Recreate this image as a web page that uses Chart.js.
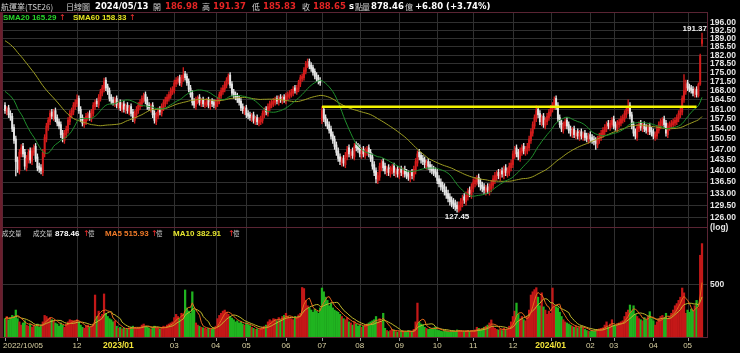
<!DOCTYPE html>
<html>
<head>
<meta charset="utf-8">
<script src="https://cdn.jsdelivr.net/npm/chart.js@4.4.1/dist/chart.umd.min.js"></script>
<style>
html, body { margin: 0; padding: 0; background: #000; overflow: hidden; }
canvas { display: block; }
</style>
</head>
<body>
<canvas id="c" width="740" height="353"></canvas>
<script>
// daily candles 2022/10/05 .. 2024/05/13
const openP = [
162.5,160,161.5,159.5,158.5,154.5,150.5,143.5,140,145.5,
148,146,141,143.5,146.5,143,146,148,144.5,141.5,
141,139.5,145.5,150.5,154.5,156.5,160,158,160.5,158,
156.5,155.5,152.5,150,152,153.5,156.5,159,160,162,
163,165,161,158,155.5,156.5,158,159.5,157.5,159.5,
162,164,162.5,165,167,168.5,172,169.5,168,165.5,
164.5,163,165,162,163.5,161,163,160.5,162.5,160,
162,160,157,159,160.5,162,163,164.5,166.5,164.5,
162.5,161,162.5,159.5,156.5,158.5,161,159.5,161.5,163,
164,165,166,167.5,168,170.5,171.5,173,170.5,172.5,
174.5,173.5,171.5,169,167,164,162,164,165.5,163,
164.5,162.5,163,164.5,162,164,163.5,162,163,164,
166,167.5,168.5,170,171.5,174,170.5,167.5,166.5,166,
165,164,162,160,161.5,159.5,159,157.5,159,156.5,
158,156,156.5,157,159,161,159.5,161.5,162.5,163,
163.5,165,163.5,165.5,164,165.5,164,165.5,166,166.5,
167,169,167.5,168.5,170.5,172.5,173,175.5,178,179.5,
178,177,175.5,174,173,172,157,161,158,156.5,
155.5,154,152,150.5,148.5,146.5,144.5,142.5,144,142,
144.5,147.5,145,146.5,144.5,148.5,148,147.5,145,147,
145,146,147.5,146,144.5,142,140,137,138,141,
143,141.5,139.5,141,139,140,141.5,139,140.5,138.5,
140.5,139,140.5,139.5,139,137.5,139.5,138,140,142.5,
146,145,144,143.5,141.5,143,142,141,140.5,140,
139.5,137.5,136.5,135.5,135,134,133,132,131,130.5,
130,129.5,128,129,130,132,130.5,132,134,132.5,
134.5,136,136.5,138,136.5,135.5,135,133.5,135,133.5,
134.5,135.5,137,138,139.5,138,140,138.5,141,139,
139.5,141,142,145,147.5,146,144,146,148,146,
146.5,147.5,150,152.5,155,157.5,161,159.5,156,158.5,
155,156.5,158,159.5,161,162,165,162.5,158,156,
153.5,155,157,155.5,154,152,154,151.5,153,151,
153,151,152.5,151.5,150,152,151,150.5,150,148.5,
150,151,152,153,154,156,154.5,155.5,157.5,155.5,
154,155.5,156,157,157.5,159,160.5,162.5,159,155.5,
153,151,154,156,154,155.5,154.5,153,155,153.5,
153,151,151.5,153.5,155,156,157.5,156,152,154.5,
155,155.5,156,156.5,157.5,159,160,164.5,167.5,171,
169.5,169,168.5,166.5,168.5,166,170.5,186.98
]
const highP = [
163.5,162,162.5,160.5,159.5,155.5,151.5,144.5,147,148.6,
149,147,145,147,147.5,147.5,148.5,149,145.5,142.5,
142,147,152,156,158,160.5,161,161,161.5,159,
157.5,156.5,153.5,153.5,155,158,160.5,161.5,163.5,164.5,
166.4,166,162,159,158,159.5,160,160.5,161,163.5,
164.5,165,166.5,168.5,170,172.8,173,170.5,169,166.5,
165.5,165.5,166,164,164.5,163.5,164,163,163.5,162.5,
163,161,160.5,162,163.5,164.5,166,167,167.5,165.5,
163.5,163,163.5,160.5,160,161.5,162,163,164.5,165.5,
166.5,167.5,169,169.5,172,173,173.5,174,174,177,
175.5,174.5,172.5,170,168,165,165.5,166,166.5,165,
165.5,164.5,165,165.5,164.5,165,164.5,164.5,165.5,167.5,
169,170,171.5,173,174.5,175,171.5,168.5,167.5,167,
166,165,163,162,162.5,160.5,160,159.5,160,158.5,
159,158,158.5,160.5,161.5,162,163,164,164.5,165,
165.5,166,166,166.5,166,166.5,167,167.5,168,168.5,
169.5,170,170,172,174,174.5,177,179.5,180.5,180.5,
179,178,176.5,175,174,173,162,162,159,157.5,
156.5,155,153,151.5,149.5,147.5,145.5,144.5,145,146,
148,148.5,147,147.5,149,149.5,149,148.5,147.5,148,
147.5,148,148.5,147,145.5,143,141,139.5,142.5,143.5,
144,142.5,141.5,142,141.5,142,142.5,141,141.5,141,
141.5,141,141.5,140.5,140,140,140.5,141.5,144,146.5,
147,146,145,144.5,143.5,144,143,142,141.5,141,
140.5,138.5,137.5,136.5,136,135,134,133,132,131.5,
131,130.5,130.5,131.5,132.5,133,133.5,134.5,135,136,
137.5,138,138.5,139,137.5,136.5,136,135.5,136,136,
137,138.5,139.5,140,140.5,140.5,141,141.5,142,141,
142.5,143.5,146.5,148,148.5,147,147.5,148.5,149,148,
149,151.5,154,156.5,159,162.3,162,160.5,159,159.5,
158,159.5,161,162.5,163.5,165.6,166,163.5,159,157,
156.5,157.5,158,156.5,155,154.5,155,153.5,154,153.5,
154,153,153.5,152.5,152.5,153,152,151.5,151,151.5,
152.5,153.5,154.5,155.5,156.5,157,157,158,158.5,156.5,
157,157.5,158.5,159,160.5,162,164.5,163.5,160,156.5,
154,155.5,156.5,157,156,156.5,155.5,155.5,156,154.5,
154,153,155,156.5,157.5,158,158.5,157,156,156.5,
157,157.5,158,159,160.5,161.5,166,174.2,172,172,
170.5,170,169.5,169,169.5,171,182.5,191.37
]
const lowP = [
159.5,159,158,157,153,149,138.4,139.5,139,144.5,
144.5,140.5,140,142.5,142.5,142,145,143,140,139.5,
139,138.5,144.5,149.5,153.5,155.5,157.5,157,156.5,155,
154,151,149.5,149,151,152.5,155.5,158,159,161,
162,159.5,156.5,155,154.5,155.5,157,157,156.5,158.5,
161,162,161.5,164,166,167.5,168,166.5,164,163,
162.5,162,161.5,161,160.5,160,160,159.5,159.5,159,
158.5,156.5,156,158,159.5,161,162,163.5,163,161,
160.5,160,158,156,155.5,157.5,159,158.5,160.5,162,
163,164,165,166.5,167,169.5,170.5,170,169.5,171.5,
172,170,167.5,165.5,162.5,161.5,161,163,162.5,162,
162,161.5,162,161.5,161,162,161.5,161,162,163,
165,166.5,167.5,169,170.5,169,166,165,164.5,163.5,
162.5,160.5,159.5,159,158,157.5,157,156.5,156,155.5,
155.5,155,155.5,156,158,159,158.5,160.5,161.5,162,
162.5,163,162.5,163.5,163,163.5,163,164.5,165,165.5,
166,167,166.5,167.5,169.5,171.5,172,174.5,177,176.5,
175.5,174,172.5,171.5,170.5,170,155.8,156.5,155,154,
152.5,150.5,149,147,145,143,142,141.5,141.5,141,
143.5,144.5,144,144,143.5,146.5,146,144.5,144,144.5,
144,145,144.5,143,140.5,138.5,136.2,136,137,140,
140,139,138.5,138.5,138,139,138.5,138,138,137.5,
138.5,138,138,137.5,137,136.5,137.5,137,139,141.5,
143.5,142.5,142,141,140.5,140.5,139.5,139,138.5,138,
136,135,134,133.5,132.5,131.5,130.5,129.5,129,128.5,
128,127.45,127.5,128,129,130,129.5,131,132,131.5,
133.5,135,135.5,135,134,133.5,133,132.5,133,132.5,
133.5,134.5,136,137,137.5,137,138,137.5,138.5,138,
138.5,140,141,144,144.5,143.5,143,145,145.5,145,
145.5,146.5,149,151.5,154,156.5,158,155.5,155,154.5,
154,155.5,157,158.5,160,161,161,156.5,154.5,153,
152.5,154,154,152.5,151.5,151,151,150.5,150.5,150,
150.5,150,150,149.5,149,149.5,149,148.5,147,147.5,
149,150,151,152,153,154,153.5,154.5,154,153.5,
153,154.5,155,156,156.5,158,159.5,157.5,154,151.5,
150.5,150,153,153.5,153,153,152.5,152,152,151.5,
150.5,150,150.5,152.5,154,155,154.5,151.5,151,153.5,
154,154.5,155,155.5,156.5,158,159,163.5,166.5,168,
167.5,167,166,165.5,165.5,165.5,170,185.83
]
const closeP = [
160.5,161,159,158,154,150,143,140.5,146,147.5,
145.5,141.5,144,146,143.5,146.5,147.5,144,141,140.5,
140,146,151,155,157,159.5,158.5,160,157.5,156,
155,152,150.5,152.5,154,157,159.5,160.5,162.5,163.5,
164.5,160.5,157.5,156,157,158.5,159,158,160,162.5,
163.5,163,165.5,167.5,169,171.5,169,167.5,165,164,
163.5,164.5,162.5,163,161.5,162.5,161,162,160.5,161.5,
159.5,157.5,159.5,161,162.5,163.5,165,166,164,162,
161.5,162,159,157,159,160.5,160,162,163.5,164.5,
165.5,166.5,168,168.5,171,172,172.5,171,173,174,
173,171,168.5,166.5,163.5,162.5,164.5,165,163.5,164,
163,163.5,164,162.5,163.5,163,162.5,163.5,164.5,166.5,
168,169,170.5,172,173.5,170,167,166,165.5,164.5,
163.5,161.5,160.5,161,159,158.5,158,158.5,157,157.5,
156.5,157,157.5,159.5,160.5,160,162,163,163.5,164,
164.5,164,165,164.5,165,164.5,166,166.5,167,167.5,
168.5,168,169,171,173,173.5,176,178.5,179,177.5,
176.5,175,173.5,172.5,171.5,171,160.5,157.5,156,155,
153.5,151.5,150,148,146,144,143,143.5,142.5,145,
147,145.5,146,145,148,147.5,147,145.5,146.5,145.5,
146.5,147,145.5,144,141.5,139.5,137.5,138.5,141.5,142.5,
141,140,140.5,139.5,140.5,141,139.5,140,139,140,
139.5,140,139,138.5,138,139,138.5,140.5,143,145.5,
144.5,143.5,143,142,142.5,141.5,140.5,140,139.5,139,
137,136,135,134.5,133.5,132.5,131.5,130.5,130,129.5,
129,128.5,129.5,130.5,131.5,131,132.5,133.5,133,135,
136.5,137,137.5,136,135,134.5,134,134.5,134,135,
136,137.5,138.5,139,138.5,139.5,139,140.5,139.5,140,
141.5,142.5,145.5,147,145.5,144.5,146.5,147.5,146.5,147,
148,150.5,153,155.5,158,160.5,159,156.5,158,155.5,
157,158.5,160,161.5,162.5,164.5,162,157.5,155.5,154,
155.5,156.5,155,153.5,152.5,153.5,152,152.5,151.5,152.5,
151.5,152,151,150.5,151.5,150.5,150,149.5,149,150.5,
151.5,152.5,153.5,154.5,155.5,155,156,157,155,154.5,
156,156.5,157.5,158,159.5,161,162,158.5,155,152.5,
151.5,154.5,155.5,154.5,155,154,153.5,154.5,153,152.5,
151.5,152,154,155.5,156.5,157,155.5,152.5,155,155.5,
156,156.5,157,158,159.5,160.5,165,168,170.5,169,
168.5,168,167,168,166.5,170.3,181.85,188.65
]
// closes before the window, read back from where the SMA20 / SMA60 curves start
const priorClose = [
190,192,194,195,196,197,198,
197,198,199,200,199,200,201,202,201,
203,204,203,205,204,206,205,204,203,
204,202,203,201,202,200,199,198,196,
196,194,191,188,184,180,
172,170,169,171,168,170,172,169,167,168,170,171,169,167,166,165,164,163,162
]
// volume, 億
const volume = [
180,200,170,190,210,200,260,180,150,120,
140,160,120,110,130,100,120,110,130,100,
120,150,210,200,180,190,170,160,140,130,
110,140,120,100,130,150,170,165,160,155,
170,150,120,100,90,110,120,100,110,130,
400,200,250,200,220,410,230,200,180,170,
150,160,110,90,100,85,90,80,85,95,
100,110,100,90,95,100,120,130,110,100,
90,85,100,110,95,90,85,100,110,105,
120,130,140,150,190,220,200,180,230,220,
447,280,250,230,430,260,140,120,110,100,
95,90,85,90,80,85,90,110,180,210,
230,250,260,240,220,200,185,170,150,160,
140,150,130,120,140,125,115,100,90,80,
85,75,90,100,110,120,150,170,160,180,
175,160,190,170,200,210,230,200,190,180,
170,200,190,215,230,470,460,350,300,280,
260,240,270,250,230,280,465,430,380,350,
300,320,280,260,250,240,220,200,180,170,
190,150,140,120,150,130,110,120,100,110,
120,130,140,150,160,170,200,150,180,160,
230,90,70,60,70,80,75,60,55,60,
65,60,55,60,70,65,60,80,150,325,
150,130,120,100,90,80,85,90,95,100,
75,70,65,60,70,65,60,55,65,70,
60,75,70,65,60,55,65,70,60,70,
65,75,100,90,80,85,100,110,120,140,
168,110,90,80,75,85,70,90,80,85,
110,150,200,250,325,220,180,200,170,160,
200,260,400,430,450,468,380,300,420,290,
260,220,250,230,465,300,290,280,240,200,
170,150,140,130,120,110,100,110,95,100,
110,95,80,70,65,60,70,65,75,80,
85,90,95,120,150,100,130,170,120,110,
130,140,150,160,200,240,260,307,250,300,
220,200,180,170,160,190,170,200,245,180,
160,120,150,180,200,210,190,230,180,200,
230,260,300,320,350,380,465,420,230,260,
240,270,249.45,300,350,281.2,770,878.46
]
const tickIdx = [0, 40, 63, 94, 117, 134, 156, 176, 197, 219, 240, 260, 282, 303, 325, 338, 360, 379]
const tickText = ['2022/10/05', '12', '2023/01', '03', '04', '05', '06', '07', '08', '09', '10', '11', '12', '2024/01', '02', '03', '04', '05']
const priceTicks = [126, 129.5, 133, 136.5, 140, 143.5, 147, 150.5, 154, 157.5, 161, 164.5, 168, 171.5, 175, 178.5, 182, 185.5, 189, 192.5, 196]
const volTicks = [500]
// hand drawn level line
const markLevel = 161.9
const markFrom = 176
const markTo = 384

const n = closeP.length
const last = n - 1
const idx = closeP.map((_, i) => i)
const allClose = priorClose.concat(closeP)

function movAvg(src, len, shift) {
    return idx.map(i => {
        const end = i + shift
        const start = Math.max(0, end - len + 1)
        let s = 0
        for (let k = start; k <= end; k++) s += src[k]
        return s / (end - start + 1)
    })
}
const sma20 = movAvg(allClose, 20, priorClose.length)
const sma60 = movAvg(allClose, 60, priorClose.length)
const ma5 = movAvg(volume, 5, 0)
const ma10 = movAvg(volume, 10, 0)

const candleColors = idx.map(i => closeP[i] > openP[i] ? "#d41c1c" : "#e4e4e4")
const volColors = idx.map(i => {
    const prev = i ? closeP[i - 1] : priorClose[priorClose.length - 1]
    return closeP[i] >= prev ? "#c41818" : "#20b420"
})

const gridCol = "#303030"
const frameCol = "#5a2433"
const tickFont = { family: "Liberation Sans", size: 8.5, weight: "bold" }

const panelText = {
    id: "panelText",
    beforeDatasetsDraw(chart) {
        const ctx = chart.ctx
        const xs = chart.scales.x
        const top = chart.scales.yP.top
        const bottom = chart.scales.yV.bottom
        ctx.save()
        ctx.strokeStyle = gridCol
        ctx.lineWidth = 1
        for (const i of tickIdx) {
            if (i == 0) continue
            const x = Math.round(xs.getPixelForValue(i)) + 0.5
            ctx.beginPath()
            ctx.moveTo(x, top)
            ctx.lineTo(x, bottom)
            ctx.stroke()
        }
        ctx.restore()
    },
    afterDraw(chart) {
        const ctx = chart.ctx
        const xs = chart.scales.x
        const yP = chart.scales.yP
        const yV = chart.scales.yV
        const area = chart.chartArea
        ctx.save()

        // panel frames
        ctx.strokeStyle = frameCol
        ctx.lineWidth = 1
        ctx.strokeRect(area.left + 0.5, yP.top + 0.5, area.right - area.left - 1, yP.bottom - yP.top)
        ctx.strokeRect(area.left + 0.5, yV.top + 0.5, area.right - area.left - 1, yV.bottom - yV.top - 1)
        ctx.fillStyle = "#6a1e2c"
        ctx.fillRect(0, yP.top, 2, yV.bottom - yP.top)

        function txt(s, x, y, color, font, align) {
            ctx.font = font
            ctx.fillStyle = color
            ctx.textAlign = align || "left"
            ctx.textBaseline = "middle"
            ctx.fillText(s, x, y)
        }
        const cjk = '8px "Noto Sans CJK TC"'
        const cjkS = '6.5px "Noto Sans CJK TC"'
        const dv = 'bold 8.5px "DejaVu Sans"'
        const lib = 'bold 8px "Liberation Sans"'
        const gray = "#cfcfcf"
        const red = "#e42424"
        const arrow = '8px "DejaVu Sans"'

        // title row
        const chg = closeP[last] - closeP[last - 1]
        txt("航運業(TSE26)", 1, 6.5, gray, cjk)
        txt("日線圖", 66, 6.5, gray, cjk)
        txt("2024/05/13", 95, 6.5, "#ffffff", dv)
        txt("開", 153, 6.5, gray, cjk)
        txt(openP[last].toFixed(2), 165, 6.5, red, dv)
        txt("高", 202, 6.5, gray, cjk)
        txt(highP[last].toFixed(2), 213, 6.5, red, dv)
        txt("低", 252, 6.5, gray, cjk)
        txt(lowP[last].toFixed(2), 263, 6.5, red, dv)
        txt("收", 302, 6.5, gray, cjk)
        txt(closeP[last].toFixed(2), 313, 6.5, red, dv)
        txt("s", 349, 6.5, "#ffffff", dv)
        txt("點", 355, 6.5, gray, cjk)
        txt("量", 362, 6.5, gray, cjk)
        txt(volume[last].toFixed(2), 371, 6.5, "#ffffff", dv)
        txt("億", 405, 6.5, gray, cjk)
        txt("+" + chg.toFixed(2) + " (+" + (chg / closeP[last - 1] * 100).toFixed(2) + "%)", 415, 6.5, "#ffffff", dv)

        // moving average legend
        txt("SMA20 165.29", 3, 17.5, "#2ad42a", lib)
        txt("↑", 59, 17.5, "#ff3030", arrow)
        txt("SMA60 158.33", 73, 17.5, "#e4e420", lib)
        txt("↑", 129, 17.5, "#ff3030", arrow)

        // volume legend
        const vy = yV.top + 6.5
        txt("成交量", 2, vy, gray, cjkS)
        txt("成交量", 33, vy, gray, cjkS)
        txt(volume[last].toFixed(2), 55, vy, "#ffffff", lib)
        txt("↑", 83, vy, "#ff3030", arrow)
        txt("億", 88, vy, gray, cjkS)
        txt("MA5 " + ma5[last].toFixed(2), 105, vy, "#f07a28", lib)
        txt("↑", 151, vy, "#ff3030", arrow)
        txt("億", 156, vy, gray, cjkS)
        txt("MA10 " + ma10[last].toFixed(2), 173, vy, "#e8e830", lib)
        txt("↑", 228, vy, "#ff3030", arrow)
        txt("億", 233, vy, gray, cjkS)

        // extreme price marks
        let hi = 0, lo = 0
        for (const i of idx) {
            if (highP[i] > highP[hi]) hi = i
            if (lowP[i] < lowP[lo]) lo = i
        }
        txt(highP[hi].toFixed(2), xs.getPixelForValue(hi) + 5, yP.getPixelForValue(highP[hi]) - 4, "#f0f0f0", lib, "right")
        txt(lowP[lo].toFixed(2), xs.getPixelForValue(lo), yP.getPixelForValue(lowP[lo]) + 5, "#f0f0f0", lib, "center")
        txt("(log)", area.right + 2, yP.bottom + 0.5, "#e4e4e4", 'bold 8.5px "Liberation Sans"')

        // date axis
        ctx.strokeStyle = "#9a9a9a"
        tickIdx.forEach((i, k) => {
            const x = xs.getPixelForValue(i)
            ctx.beginPath()
            ctx.moveTo(Math.round(x) + 0.5, yV.bottom)
            ctx.lineTo(Math.round(x) + 0.5, yV.bottom + 3)
            ctx.stroke()
            const s = tickText[k]
            const isYear = s.length == 7
            const font = isYear ? 'bold 8.5px "Liberation Sans"' : '8px "Liberation Sans"'
            const col = isYear ? "#f2e43a" : "#d8d0a2"
            if (k == 0) txt(s, 3, 346, col, font, "left")
            else txt(s, x, 346, col, font, "center")
        })
        ctx.restore()
    }
}

new Chart(document.getElementById("c"), {
    data: {
        datasets: [
            {
                type: "line", yAxisID: "yP", order: 0,
                data: [{ x: markFrom, y: markLevel }, { x: markTo, y: markLevel }],
                borderColor: "#f4f400", borderWidth: 2.5, pointRadius: 0
            },
            {
                type: "line", yAxisID: "yP", order: 1,
                data: idx.map(i => ({ x: i, y: sma20[i] })),
                borderColor: "#1f8f2c", borderWidth: 1, pointRadius: 0, tension: 0
            },
            {
                type: "line", yAxisID: "yP", order: 2,
                data: idx.map(i => ({ x: i, y: sma60[i] })),
                borderColor: "#9e9e22", borderWidth: 1, pointRadius: 0, tension: 0
            },
            {
                type: "bar", yAxisID: "yP", order: 3, grouped: false,
                data: idx.map(i => ({ x: i, y: [openP[i], closeP[i]] })),
                backgroundColor: candleColors, barThickness: 1.3, minBarLength: 1
            },
            {
                type: "bar", yAxisID: "yP", order: 4, grouped: false,
                data: idx.map(i => ({ x: i, y: [lowP[i], highP[i]] })),
                backgroundColor: candleColors, barThickness: 0.7
            },
            {
                type: "line", yAxisID: "yV", order: 5,
                data: idx.map(i => ({ x: i, y: ma5[i] })),
                borderColor: "#e86a1c", borderWidth: 1, pointRadius: 0
            },
            {
                type: "line", yAxisID: "yV", order: 6,
                data: idx.map(i => ({ x: i, y: ma10[i] })),
                borderColor: "#c4bc2c", borderWidth: 1, pointRadius: 0
            },
            {
                type: "bar", yAxisID: "yV", order: 7, grouped: false,
                data: idx.map(i => ({ x: i, y: volume[i] })),
                backgroundColor: volColors, barThickness: 1.6
            }
        ]
    },
    options: {
        responsive: false,
        animation: false,
        events: [],
        layout: { padding: { left: 2, top: 12, right: 0, bottom: 15 } },
        plugins: { legend: { display: false }, tooltip: { enabled: false } },
        scales: {
            x: { type: "linear", min: -1.666, max: 390.33, display: false, offset: false },
            yP: {
                type: "logarithmic", position: "right", stack: "panels", stackWeight: 215,
                min: 123.25, max: 200.8,
                afterBuildTicks: axis => { axis.ticks = priceTicks.map(v => ({ value: v })) },
                afterFit: axis => { axis.width = 32 },
                ticks: { color: "#e4e4e4", font: tickFont, padding: 2, autoSkip: false, callback: v => Number(v).toFixed(2) },
                grid: { color: gridCol, drawTicks: false },
                border: { display: false }
            },
            yV: {
                type: "linear", position: "right", stack: "panels", stackWeight: 111,
                min: 0, max: 1033,
                afterBuildTicks: axis => { axis.ticks = volTicks.map(v => ({ value: v })) },
                afterFit: axis => { axis.width = 32 },
                ticks: { color: "#e4e4e4", font: tickFont, padding: 2, autoSkip: false },
                grid: { color: gridCol, drawTicks: false },
                border: { display: false }
            }
        }
    },
    plugins: [panelText]
})
</script>
</body>
</html>
